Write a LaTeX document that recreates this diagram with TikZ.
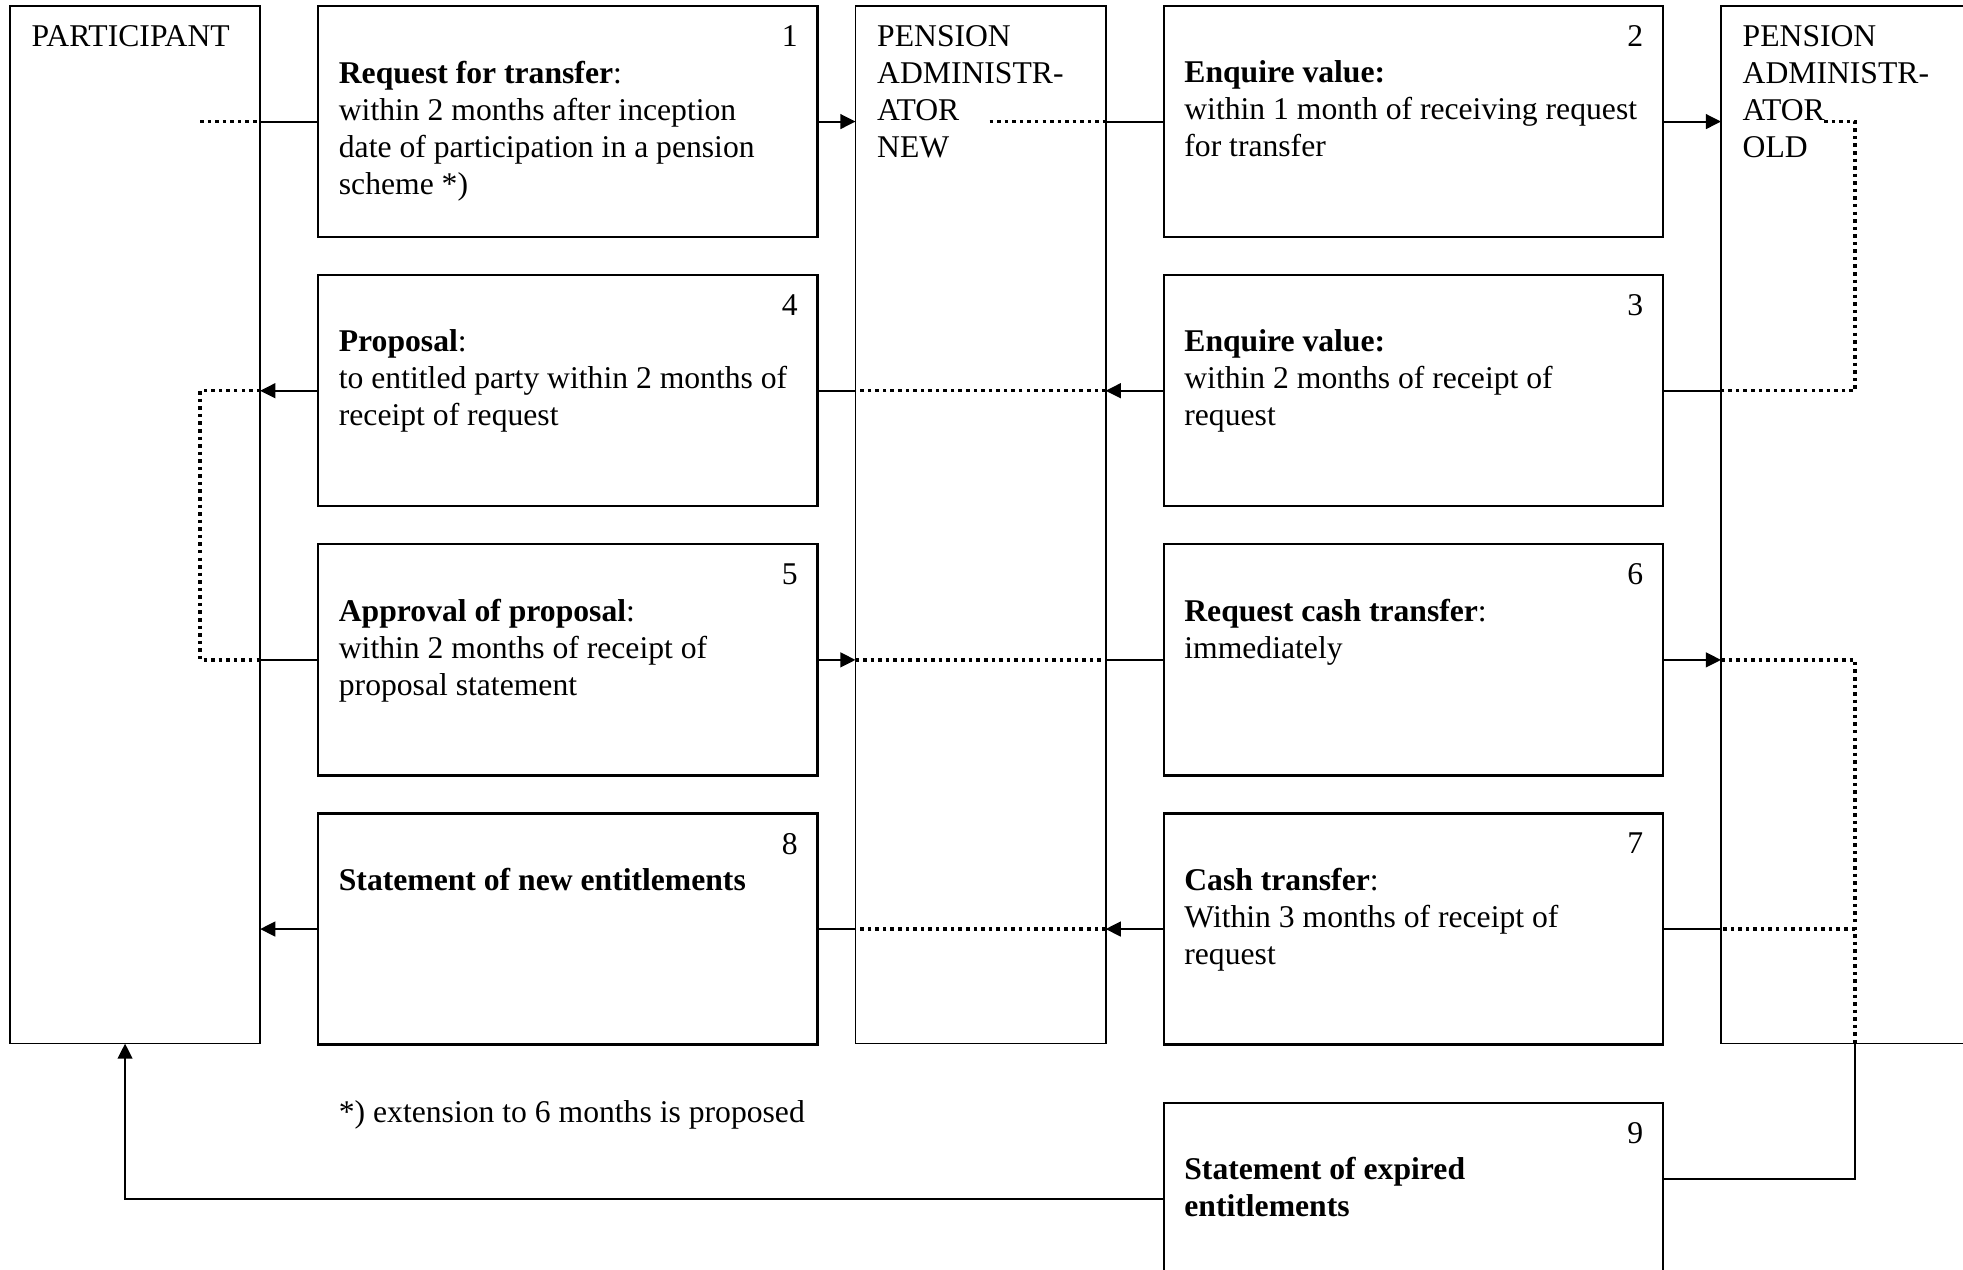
\documentclass[tikz,border=0pt]{standalone}
\usepackage{fontspec}
\setmainfont{Liberation Serif}
\usetikzlibrary{positioning,arrows.meta}
\newcommand{\boxfont}{\fontsize{9pt}{10.53pt}\selectfont}

\begin{document}
\begin{tikzpicture}[x=0.01cm, y=-0.01cm,
    actor/.style={draw, line width=0.5pt, inner sep=0pt, outer sep=0pt,
        minimum width=2.5cm, minimum height=10.37cm},
    stepbox/.style={draw, line width=0.65pt, inner sep=0pt, outer sep=0pt,
        minimum width=4.99cm, minimum height=2.31cm},
    txt/.style={font=\boxfont, align=left, inner sep=0pt, anchor=north west},
    num/.style={font=\boxfont, inner sep=0pt, anchor=north east},
    conn/.style={line width=0.55pt},
    arr/.style={conn, -{Triangle[length=4.3pt,width=4.2pt]}},
    dotline/.style={line width=1pt, dash pattern=on 1pt off 1.15pt}]

    \useasboundingbox (0,0) rectangle (1963,1269);

    % actors
    \node[actor, anchor=north west] (part) at (10,6) {};
    \node[stepbox, right=0.58cm of part.north east, anchor=north west] (b1) {};
    \node[actor, right=0.38cm of b1.north east, anchor=north west] (pan) {};
    \node[stepbox, right=0.58cm of pan.north east, anchor=north west] (b2) {};
    \node[actor, minimum width=3cm, right=0.58cm of b2.north east,
        anchor=north west] (pao) {};

    % steps
    \node[stepbox, below=0.38cm of b1] (b4) {};
    \node[stepbox, below=0.38cm of b4] (b5) {};
    \node[stepbox, below=0.38cm of b5] (b8) {};
    \node[stepbox, below=0.38cm of b2] (b3) {};
    \node[stepbox, below=0.38cm of b3] (b6) {};
    \node[stepbox, below=0.38cm of b6] (b7) {};
    \node[stepbox, minimum height=1.92cm, below=0.58cm of b7] (b9) {};

    % actor names
    \node[txt] (tpart) at ([xshift=0.21cm,yshift=-0.19cm]part.north west)
        {PARTICIPANT};
    \node[txt] (tpan) at ([xshift=0.21cm,yshift=-0.19cm]pan.north west)
        {PENSION\\ADMINISTR-\\ATOR\\NEW};
    \node[txt] (tpao) at ([xshift=0.21cm,yshift=-0.19cm]pao.north west)
        {PENSION\\ADMINISTR-\\ATOR\\OLD};

    % step numbers
    \foreach \b in {1,...,9}
        \node[num] (n\b) at ([xshift=-0.19cm,yshift=-0.19cm]b\b.north east) {\b};

    % step texts
    \node[txt] (t1) at ([xshift=0.2cm,yshift=-0.54cm]b1.north west)
        {\textbf{Request for transfer}:\\ within 2 months after inception\\
        date of participation in a pension\\ scheme *)};
    \node[txt] (t2) at ([xshift=0.2cm,yshift=-0.54cm]b2.north west)
        {\textbf{Enquire value:}\\ within 1 month of receiving request\\
        for transfer};
    \node[txt] (t3) at ([xshift=0.2cm,yshift=-0.54cm]b3.north west)
        {\textbf{Enquire value:}\\ within 2 months of receipt of\\ request};
    \node[txt] (t4) at ([xshift=0.2cm,yshift=-0.54cm]b4.north west)
        {\textbf{Proposal}:\\ to entitled party within 2 months of\\
        receipt of request};
    \node[txt] (t5) at ([xshift=0.2cm,yshift=-0.54cm]b5.north west)
        {\textbf{Approval of proposal}:\\ within 2 months of receipt of\\
        proposal statement};
    \node[txt] (t6) at ([xshift=0.2cm,yshift=-0.54cm]b6.north west)
        {\textbf{Request cash transfer}:\\ immediately};
    \node[txt] (t7) at ([xshift=0.2cm,yshift=-0.54cm]b7.north west)
        {\textbf{Cash transfer}:\\ Within 3 months of receipt of\\ request};
    \node[txt] (t8) at ([xshift=0.2cm,yshift=-0.54cm]b8.north west)
        {\textbf{Statement of new entitlements}};
    \node[txt] (t9) at ([xshift=0.2cm,yshift=-0.54cm]b9.north west)
        {\textbf{Statement of expired}\\ \textbf{entitlements}};
    \node[font=\boxfont, inner sep=0pt, anchor=base west] (note)
        at ([xshift=0.2cm,yshift=-0.78cm]b8.south west)
        {*) extension to 6 months is proposed};

    % bend points
    \coordinate (pl1) at ([xshift=-0.6cm]part.east |- b1.west);
    \coordinate (pl2) at ([xshift=-0.6cm]part.east |- b4.west);
    \coordinate (pl3) at ([xshift=-0.6cm]part.east |- b5.west);
    \coordinate (pb) at ([xshift=-0.1cm]part.south);
    \coordinate (an1) at ([xshift=-1.16cm]pan.east |- b2.west);
    \coordinate (ao1) at ([xshift=1.03cm]pao.west |- b2.east);
    \coordinate (ao2) at ([xshift=1.34cm]pao.west |- b2.east);
    \coordinate (ao3) at ([xshift=1.34cm]pao.west |- b6.east);
    \coordinate (ao4) at ([xshift=1.34cm]pao.south west);
    \coordinate (ao5) at ([xshift=1.34cm,yshift=0.2cm]pao.west |- b9.east);
    \coordinate (ao6) at ([xshift=1.34cm]pao.west |- b7.east);

    % row 1
    \draw[dotline] (pl1) -- (part.east |- b1.west);
    \draw[conn] (part.east |- b1.west) -- (b1.west);
    \draw[arr] (b1.east) -- (pan.west |- b1.east);
    \draw[dotline] (an1) -- (pan.east |- b2.west);
    \draw[conn] (pan.east |- b2.west) -- (b2.west);
    \draw[arr] (b2.east) -- (pao.west |- b2.east);
    \draw[dotline] (ao1) -- (ao2) |- (pao.west |- b3.east);
    % row 2
    \draw[conn] (pao.west |- b3.east) -- (b3.east);
    \draw[arr] (b3.west) -- (pan.east |- b3.west);
    \draw[dotline] (pan.east |- b3.west) -- (pan.west |- b3.west);
    \draw[conn] (pan.west |- b4.east) -- (b4.east);
    \draw[arr] (b4.west) -- (part.east |- b4.west);
    \draw[dotline] (part.east |- b4.west) -- (pl2) -- (pl3) -- (part.east |- b5.west);
    % row 3
    \draw[conn] (part.east |- b5.west) -- (b5.west);
    \draw[arr] (b5.east) -- (pan.west |- b5.east);
    \draw[dotline] (pan.west |- b5.east) -- (pan.east |- b5.east);
    \draw[conn] (pan.east |- b6.west) -- (b6.west);
    \draw[arr] (b6.east) -- (pao.west |- b6.east);
    \draw[dotline] (pao.west |- b6.east) -- (ao3) -- (ao4);
    \draw[conn] (ao4) -- (ao5) -- (ao5 -| b9.east);
    % row 4
    \draw[dotline] (ao6) -- (pao.west |- b7.east);
    \draw[conn] (pao.west |- b7.east) -- (b7.east);
    \draw[arr] (b7.west) -- (pan.east |- b7.west);
    \draw[dotline] (pan.east |- b7.west) -- (pan.west |- b7.west);
    \draw[conn] (pan.west |- b8.east) -- (b8.east);
    \draw[arr] (b8.west) -- (part.east |- b8.west);
    % back to participant
    \draw[arr] (b9.west) -- (pb |- b9.west) -- (pb);

\end{tikzpicture}
\end{document}
